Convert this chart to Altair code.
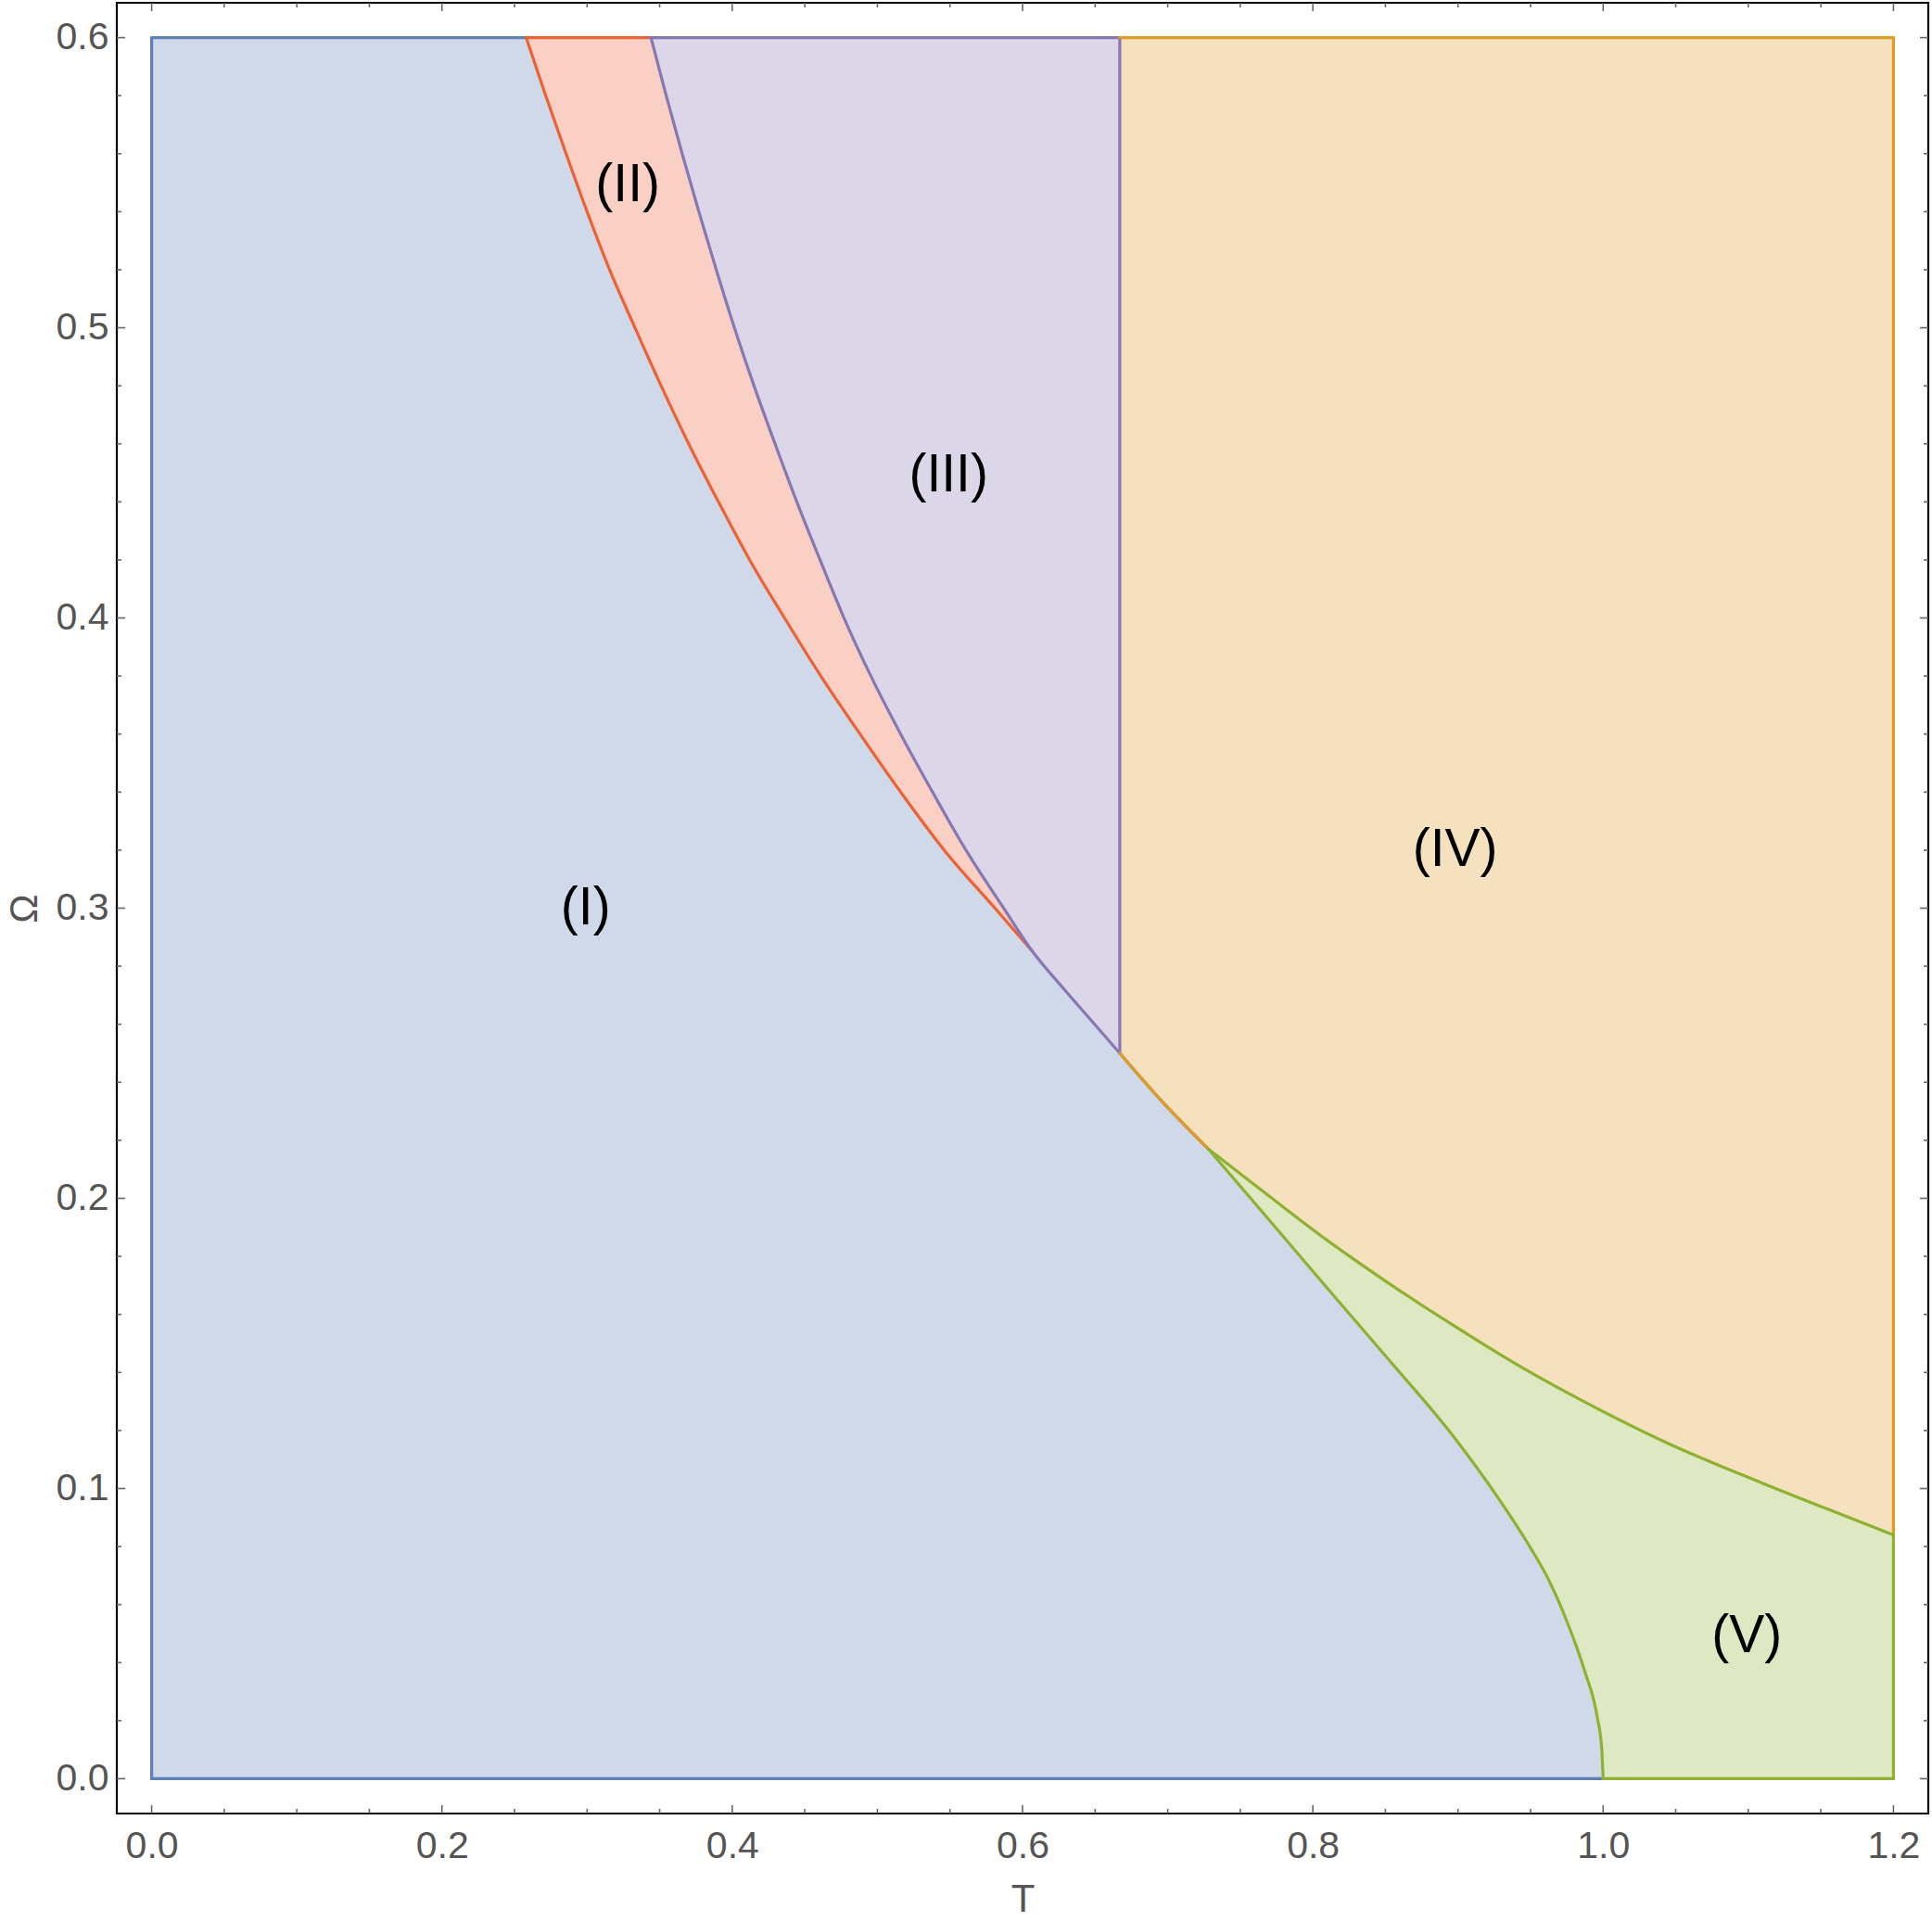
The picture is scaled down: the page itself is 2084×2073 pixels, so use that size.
import altair as alt
import pandas as pd

# ---------------- data ----------------
# boundary curves (T, Omega)
curveA_T = [0.258, 0.2715, 0.2855, 0.300, 0.3155, 0.333, 0.351, 0.370, 0.3905, 0.412, 0.436, 0.461, 0.488, 0.516, 0.546, 0.581, 0.607]
curveA_O = [0.600, 0.580, 0.560, 0.540, 0.520, 0.500, 0.480, 0.460, 0.440, 0.420, 0.400, 0.380, 0.360, 0.340, 0.320, 0.300, 0.285]

curveB_T = [0.344, 0.3545, 0.3655, 0.377, 0.389, 0.4015, 0.415, 0.4295, 0.4445, 0.4605, 0.477, 0.4955, 0.516, 0.538, 0.561, 0.587, 0.607, 0.627, 0.647, 0.667]
curveB_O = [0.600, 0.580, 0.560, 0.540, 0.520, 0.500, 0.480, 0.460, 0.440, 0.420, 0.400, 0.380, 0.360, 0.340, 0.320, 0.300, 0.285, 0.273, 0.2615, 0.250]

curveC_T = [0.667, 0.695, 0.728]
curveC_O = [0.250, 0.234, 0.217]

curveD_T = [0.728, 0.768, 0.810, 0.853, 0.896, 0.938, 0.981, 1.045, 1.109, 1.172, 1.200]
curveD_O = [0.217, 0.2015, 0.1855, 0.1705, 0.1565, 0.1435, 0.1315, 0.1155, 0.102, 0.0895, 0.084]

curveE_T = [0.728, 0.770, 0.810, 0.853, 0.896, 0.928, 0.950, 0.962, 0.974, 0.987, 0.996, 0.999, 1.000]
curveE_O = [0.217, 0.1925, 0.169, 0.144, 0.1185, 0.0965, 0.0795, 0.069, 0.0555, 0.0375, 0.021, 0.0105, 0.000]

T_min, T_max, O_min, O_max = 0.0, 1.2, 0.0, 0.6
T_vert = 0.667

region_labels = ["(I)", "(II)", "(III)", "(IV)", "(V)"]
label_T = [0.299, 0.328, 0.549, 0.898, 1.099]
label_O = [0.300, 0.549, 0.449, 0.320, 0.049]

x_major = [0.0, 0.2, 0.4, 0.6, 0.8, 1.0, 1.2]
x_minor = [0.05, 0.1, 0.15, 0.25, 0.3, 0.35, 0.45, 0.5, 0.55, 0.65, 0.7, 0.75,
           0.85, 0.9, 0.95, 1.05, 1.1, 1.15]
y_major = [0.0, 0.1, 0.2, 0.3, 0.4, 0.5, 0.6]
y_minor = [0.02, 0.04, 0.06, 0.08, 0.12, 0.14, 0.16, 0.18, 0.22, 0.24, 0.26, 0.28,
           0.32, 0.34, 0.36, 0.38, 0.42, 0.44, 0.46, 0.48, 0.52, 0.54, 0.56, 0.58]

# colours
c_blue, c_red, c_purple, c_orange, c_green = "#5E81B5", "#EB6235", "#8778B3", "#E19C24", "#8FB131"
f_blue, f_red, f_purple, f_orange, f_green = "#CFD9E9", "#F9D0C3", "#DBD6E8", "#F6E1BE", "#DEE8C3"

# ---------------- build tables ----------------
def pts(Ts, Os):
    return list(zip(Ts, Os))

A = pts(curveA_T, curveA_O)
B = pts(curveB_T, curveB_O)
C = pts(curveC_T, curveC_O)
D = pts(curveD_T, curveD_O)
E = pts(curveE_T, curveE_O)

# index of the point where curve A meets curve B
iB = curveB_O.index(curveA_O[-1])

polys = [
    ([(T_min, O_min), (T_min, O_max)] + A + B[iB + 1:] + C[1:] + E[1:], f_blue),
    (A + B[:iB][::-1], f_red),
    (B + [(T_vert, O_max)], f_purple),
    ([(T_vert, O_max), (T_max, O_max)] + D[::-1] + C[::-1][1:], f_orange),
    (D + [(T_max, O_min)] + E[::-1], f_green),
]

# (points, colour, interpolation) in drawing order
segments = [
    ([(T_min, O_min), (T_min, O_max)], c_blue, "linear"),
    ([(T_min, O_max), A[0]], c_blue, "linear"),
    ([(T_min, O_min), E[-1]], c_blue, "linear"),
    (C, c_blue, "monotone"),
    ([A[0], B[0]], c_red, "linear"),
    (A, c_red, "monotone"),
    ([B[0], (T_vert, O_max)], c_purple, "linear"),
    (B, c_purple, "monotone"),
    ([(T_vert, C[0][1]), (T_vert, O_max)], c_purple, "linear"),
    ([(T_vert, O_max), (T_max, O_max)], c_orange, "linear"),
    ([(T_max, O_max), D[-1]], c_orange, "linear"),
    (C, c_orange, "monotone"),
    (D, c_green, "monotone"),
    (E, c_green, "monotone"),
    ([D[-1], (T_max, O_min)], c_green, "linear"),
    ([E[-1], (T_max, O_min)], c_green, "linear"),
]


def table(p):
    return pd.DataFrame({"T": [q[0] for q in p], "Om": [q[1] for q in p],
                         "ord": list(range(len(p)))})


W, H = 1954, 1953
FONT = "Liberation Sans"
GRAY = "#555555"

xscale = alt.Scale(domain=[-0.024, 1.224], nice=False, zero=False)
yscale = alt.Scale(domain=[-0.012, 0.612], nice=False, zero=False)

xaxis = alt.Axis(values=x_major, format=".1f", ticks=False, domain=False, grid=False,
                 labelFontSize=41, labelColor=GRAY, labelFont=FONT, labelPadding=15,
                 labelFlush=False, labelOverlap=False,
                 title="T", titleFontSize=42, titleColor=GRAY, titleFont=FONT,
                 titleFontWeight="normal", titleX=W / 2, titleY=105,
                 titleBaseline="alphabetic", titleAlign="center")
yaxis = alt.Axis(values=y_major, format=".1f", ticks=False, domain=False, grid=False,
                 labelFontSize=41, labelColor=GRAY, labelFont=FONT, labelPadding=9,
                 labelFlush=False, labelOverlap=False,
                 title="Ω", titleFontSize=42, titleColor=GRAY, titleFont=FONT,
                 titleFontWeight="normal", titleAngle=270, titleX=-87, titleY=H / 2,
                 titleBaseline="alphabetic", titleAlign="center")


def X(field="T"):
    return alt.X(f"{field}:Q", scale=xscale, axis=xaxis)


def Y(field="Om"):
    return alt.Y(f"{field}:Q", scale=yscale, axis=yaxis)


layers = []
for p, fillc in polys:
    layers.append(
        alt.Chart(table(p)).mark_line(fill=fillc, stroke=fillc, strokeWidth=1, interpolate="linear")
        .encode(x=X(), y=Y(), order=alt.Order("ord:Q"))
    )

for p, col, interp in segments:
    layers.append(
        alt.Chart(table(p)).mark_line(stroke=col, strokeWidth=3.2, interpolate=interp,
                                      strokeJoin="round", strokeCap="round")
        .encode(x=X(), y=Y(), order=alt.Order("ord:Q"))
    )

lab_df = pd.DataFrame({"label": region_labels, "T": label_T, "Om": label_O})
layers.append(
    alt.Chart(lab_df).mark_text(font=FONT, fontSize=57, color="black", align="center", baseline="middle")
    .encode(x=X(), y=Y(), text="label:N")
)


# inward frame ticks
def xticks(vals, length):
    df = pd.DataFrame({"T": vals})
    bot = alt.Chart(df).mark_rule(color="#666666", strokeWidth=1.6).encode(
        x=X(), y=alt.value(H), y2=alt.value(H - length))
    top = alt.Chart(df).mark_rule(color="#666666", strokeWidth=1.6).encode(
        x=X(), y=alt.value(0), y2=alt.value(length))
    return [bot, top]


def yticks(vals, length):
    df = pd.DataFrame({"Om": vals})
    left = alt.Chart(df).mark_rule(color="#666666", strokeWidth=1.6).encode(
        y=Y(), x=alt.value(0), x2=alt.value(length))
    right = alt.Chart(df).mark_rule(color="#666666", strokeWidth=1.6).encode(
        y=Y(), x=alt.value(W), x2=alt.value(W - length))
    return [left, right]


layers += xticks(x_major, 9) + xticks(x_minor, 5) + yticks(y_major, 9) + yticks(y_minor, 5)

chart = alt.layer(*layers).properties(
    width=W, height=H,
    autosize=alt.AutoSizeParams(type="none"),
    padding={"left": 126, "top": 3, "right": 4, "bottom": 117},
    background="white",
).configure_view(stroke="#000000", strokeWidth=2.2)

chart.save("out.html", embed_options={"renderer": "svg", "actions": False})
